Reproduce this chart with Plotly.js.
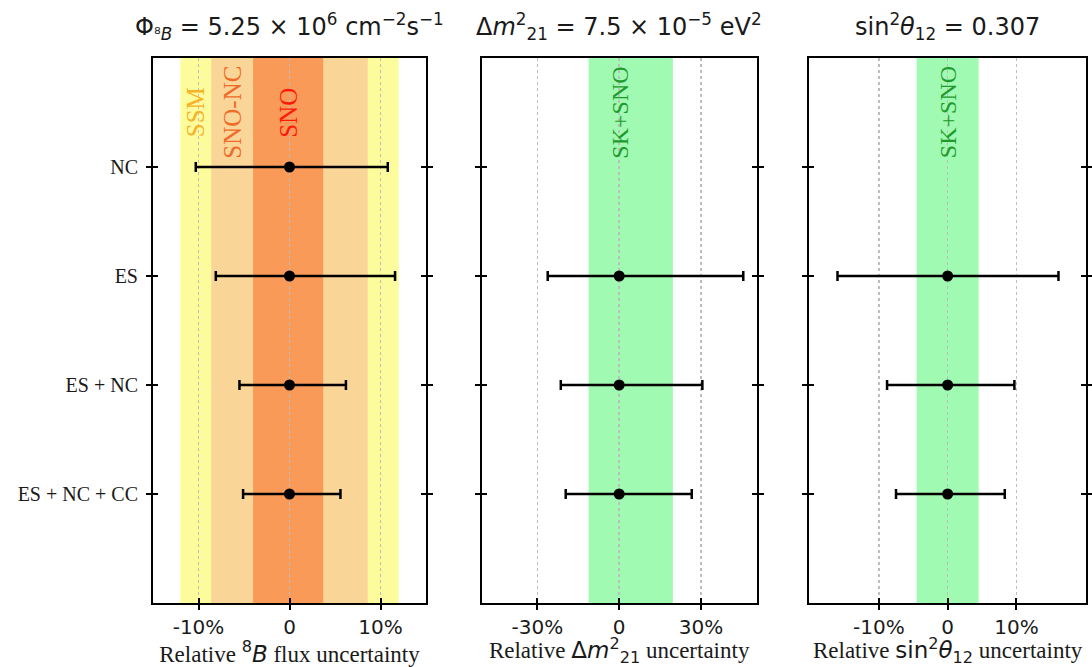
<!DOCTYPE html>
<html>
<head>
<meta charset="utf-8">
<script src="https://cdn.plot.ly/plotly-3.0.1.min.js"></script>
<style>
  html, body { margin: 0; padding: 0; background: #fff; }
  #chart { width: 1092px; height: 667px; }
</style>
</head>
<body>
<div id="chart"></div>
<script>
// ---------------- data ----------------
const categories = ["NC", "ES", "ES + NC", "ES + NC + CC"];

// Panel 1: relative 8B flux uncertainty (%)
const fluxCentral = [0, 0, 0, 0];
const fluxErrMinus = [10.3, 8.1, 5.5, 5.1];
const fluxErrPlus = [10.8, 11.6, 6.2, 5.6];

// Panel 2: relative Δm²21 uncertainty (%)
const dm2Central = [null, 0, 0, 0];
const dm2ErrMinus = [null, 26.2, 21.4, 19.6];
const dm2ErrPlus = [null, 45.5, 30.5, 26.6];

// Panel 3: relative sin²θ12 uncertainty (%)
const th12Central = [null, 0, 0, 0];
const th12ErrMinus = [null, 16.0, 8.8, 7.5];
const th12ErrPlus = [null, 16.1, 9.7, 8.3];

// Reference bands (%)
const fluxBandLabels = ["SSM", "SNO-NC", "SNO"];
const fluxBandLow = [-12.0, -8.6, -4.0];
const fluxBandHigh = [12.0, 8.6, 3.7];
const globalBandLabel = "SK+SNO";
const dm2BandLow = -11.2, dm2BandHigh = 19.7;
const th12BandLow = -4.5, th12BandHigh = 4.5;

// Tick labels
const fluxTickVals = [-10, 0, 10];
const fluxTickText = ["-10%", "0", "10%"];
const dm2TickVals = [-30, 0, 30];
const dm2TickText = ["-30%", "0", "30%"];
const th12TickVals = [-10, 0, 10];
const th12TickText = ["-10%", "0", "10%"];

// ---------------- styles ----------------
const fluxBandColors = ["#fcfc9c", "#fad598", "#fa9a58"];
const fluxLabelColors = ["#f8b22a", "#f06a2a", "#ff1a0a"];
const greenBand = "#a0fab2";
const greenText = "#1f9a2c";
const serif = "Liberation Serif, Times New Roman, serif";
const sans = "DejaVu Sans, sans-serif";

const ranges = [[-15, 15], [-50.4, 50.4], [-20.1, 20.1]];
const domains = [[0, 0.2926], [0.3523, 0.647], [0.7034, 1]];
const tickVals = [fluxTickVals, dm2TickVals, th12TickVals];
const tickText = [fluxTickText, dm2TickText, th12TickText];
const xTitles = [
  "Relative <span style='font-family:DejaVu Sans'><sup>8</sup><i>B</i></span> flux uncertainty",
  "Relative <span style='font-family:DejaVu Sans'>Δ<i>m</i><sup>2</sup><sub>21</sub></span> uncertainty",
  "Relative <span style='font-family:DejaVu Sans'>sin<sup>2</sup><i>θ</i><sub>12</sub></span> uncertainty"
];
const topTitles = [
  "Φ<sub>⁸<i>B</i></sub> = 5.25 × 10<sup>6</sup> cm<sup>−2</sup>s<sup>−1</sup>",
  "Δ<i>m</i><sup>2</sup><sub>21</sub> = 7.5 × 10<sup>−5</sup> eV<sup>2</sup>",
  "sin<sup>2</sup><i>θ</i><sub>12</sub> = 0.307"
];

const yRange = [categories.length, -1];

const traces = [];
const centrals = [fluxCentral, dm2Central, th12Central];
const minus = [fluxErrMinus, dm2ErrMinus, th12ErrMinus];
const plus = [fluxErrPlus, dm2ErrPlus, th12ErrPlus];

for (let i = 0; i < 3; i++) {
  const xs = [], ys = [], em = [], ep = [];
  categories.forEach((c, k) => {
    if (centrals[i][k] !== null) {
      xs.push(centrals[i][k]); ys.push(c); em.push(minus[i][k]); ep.push(plus[i][k]);
    }
  });
  traces.push({
    type: "scatter", mode: "markers",
    x: xs, y: ys,
    xaxis: "x" + (i + 1), yaxis: "y" + (i + 1),
    marker: { color: "black", size: 11 },
    error_x: { type: "data", symmetric: false, array: ep, arrayminus: em,
               color: "black", thickness: 2.5, width: 5 },
    showlegend: false, hoverinfo: "skip"
  });
  // dummy trace for overlay axes (inner ticks)
  traces.push({
    type: "scatter", mode: "markers", x: [null], y: [null],
    xaxis: "x" + (i + 4), yaxis: "y" + (i + 4),
    showlegend: false, hoverinfo: "skip"
  });
}

const layout = {
  width: 1092, height: 667,
  margin: { l: 153, r: 6, t: 58, b: 64 },
  paper_bgcolor: "white", plot_bgcolor: "white",
  showlegend: false,
  shapes: [], annotations: []
};

for (let i = 0; i < 3; i++) {
  const n = i + 1, m = i + 4;
  layout["xaxis" + n] = {
    domain: domains[i], anchor: "y" + n, range: ranges[i],
    tickmode: "array", tickvals: tickVals[i], ticktext: tickText[i],
    ticks: "outside", ticklen: 5, tickwidth: 2, tickcolor: "black",
    showline: true, linecolor: "black", linewidth: 2, mirror: true,
    showgrid: true, gridcolor: "#bdbdbd", griddash: "dot", gridwidth: 1.5,
    zeroline: false,
    tickfont: { family: sans, size: 20, color: "#1a1a1a" },
    title: { text: xTitles[i], font: { family: serif, size: 23, color: "#1a1a1a" }, standoff: 4 },
    fixedrange: true
  };
  layout["yaxis" + n] = {
    domain: [0, 1], anchor: "x" + n, type: "category",
    categoryarray: categories, categoryorder: "array", range: yRange,
    ticks: "outside", ticklen: 5, tickwidth: 2, tickcolor: "black",
    showline: true, linecolor: "black", linewidth: 2, mirror: "ticks",
    showgrid: false, zeroline: false,
    showticklabels: i === 0,
    tickfont: { family: serif, size: 20, color: "#1a1a1a" },
    ticklabelstandoff: 4,
    fixedrange: true
  };
  layout["xaxis" + m] = {
    overlaying: "x" + n, anchor: "y" + m, range: ranges[i],
    tickmode: "array", tickvals: tickVals[i],
    ticks: "inside", ticklen: 5, tickwidth: 2, tickcolor: "black",
    showticklabels: false, showgrid: false, zeroline: false,
    showline: true, linecolor: "black", linewidth: 2,
    fixedrange: true
  };
  layout["yaxis" + m] = {
    overlaying: "y" + n, anchor: "x" + m, type: "category",
    categoryarray: categories, categoryorder: "array", range: yRange,
    ticks: "inside", ticklen: 5, tickwidth: 2, tickcolor: "black",
    showline: true, linecolor: "black", linewidth: 2, mirror: "ticks",
    showticklabels: false, showgrid: false, zeroline: false,
    fixedrange: true
  };
  layout.annotations.push({
    xref: "x" + n + " domain", yref: "paper", x: 0.5, y: 1,
    xanchor: "center", yanchor: "middle", yshift: 32,
    text: topTitles[i], showarrow: false,
    font: { family: sans, size: 24, color: "#1a1a1a" }
  });
}

// Panel 1 bands
fluxBandLabels.forEach((lab, k) => {
  layout.shapes.push({
    type: "rect", xref: "x1", yref: "y1 domain",
    x0: fluxBandLow[k], x1: fluxBandHigh[k], y0: 0, y1: 1,
    fillcolor: fluxBandColors[k], line: { width: 0 }, layer: "below"
  });
  const xc = k < fluxBandLabels.length - 1 ? (fluxBandLow[k] + fluxBandLow[k + 1]) / 2
                                            : (fluxBandLow[k] + fluxBandHigh[k]) / 2;
  layout.annotations.push({
    xref: "x1", yref: "y1", x: xc, y: -0.5,
    text: lab, textangle: -90, showarrow: false,
    xanchor: "center", yanchor: "middle",
    font: { family: serif, size: 25, color: fluxLabelColors[k] }
  });
});

// Panels 2 and 3 bands
[[2, dm2BandLow, dm2BandHigh], [3, th12BandLow, th12BandHigh]].forEach(([n, lo, hi]) => {
  layout.shapes.push({
    type: "rect", xref: "x" + n, yref: "y" + n + " domain",
    x0: lo, x1: hi, y0: 0, y1: 1,
    fillcolor: greenBand, line: { width: 0 }, layer: "below"
  });
  layout.annotations.push({
    xref: "x" + n, yref: "y" + n, x: 0, y: -0.5,
    text: globalBandLabel, textangle: -90, showarrow: false,
    xanchor: "center", yanchor: "middle",
    font: { family: serif, size: 24, color: greenText }
  });
});

Plotly.newPlot("chart", traces, layout, { displayModeBar: false, staticPlot: true });
</script>
</body>
</html>
